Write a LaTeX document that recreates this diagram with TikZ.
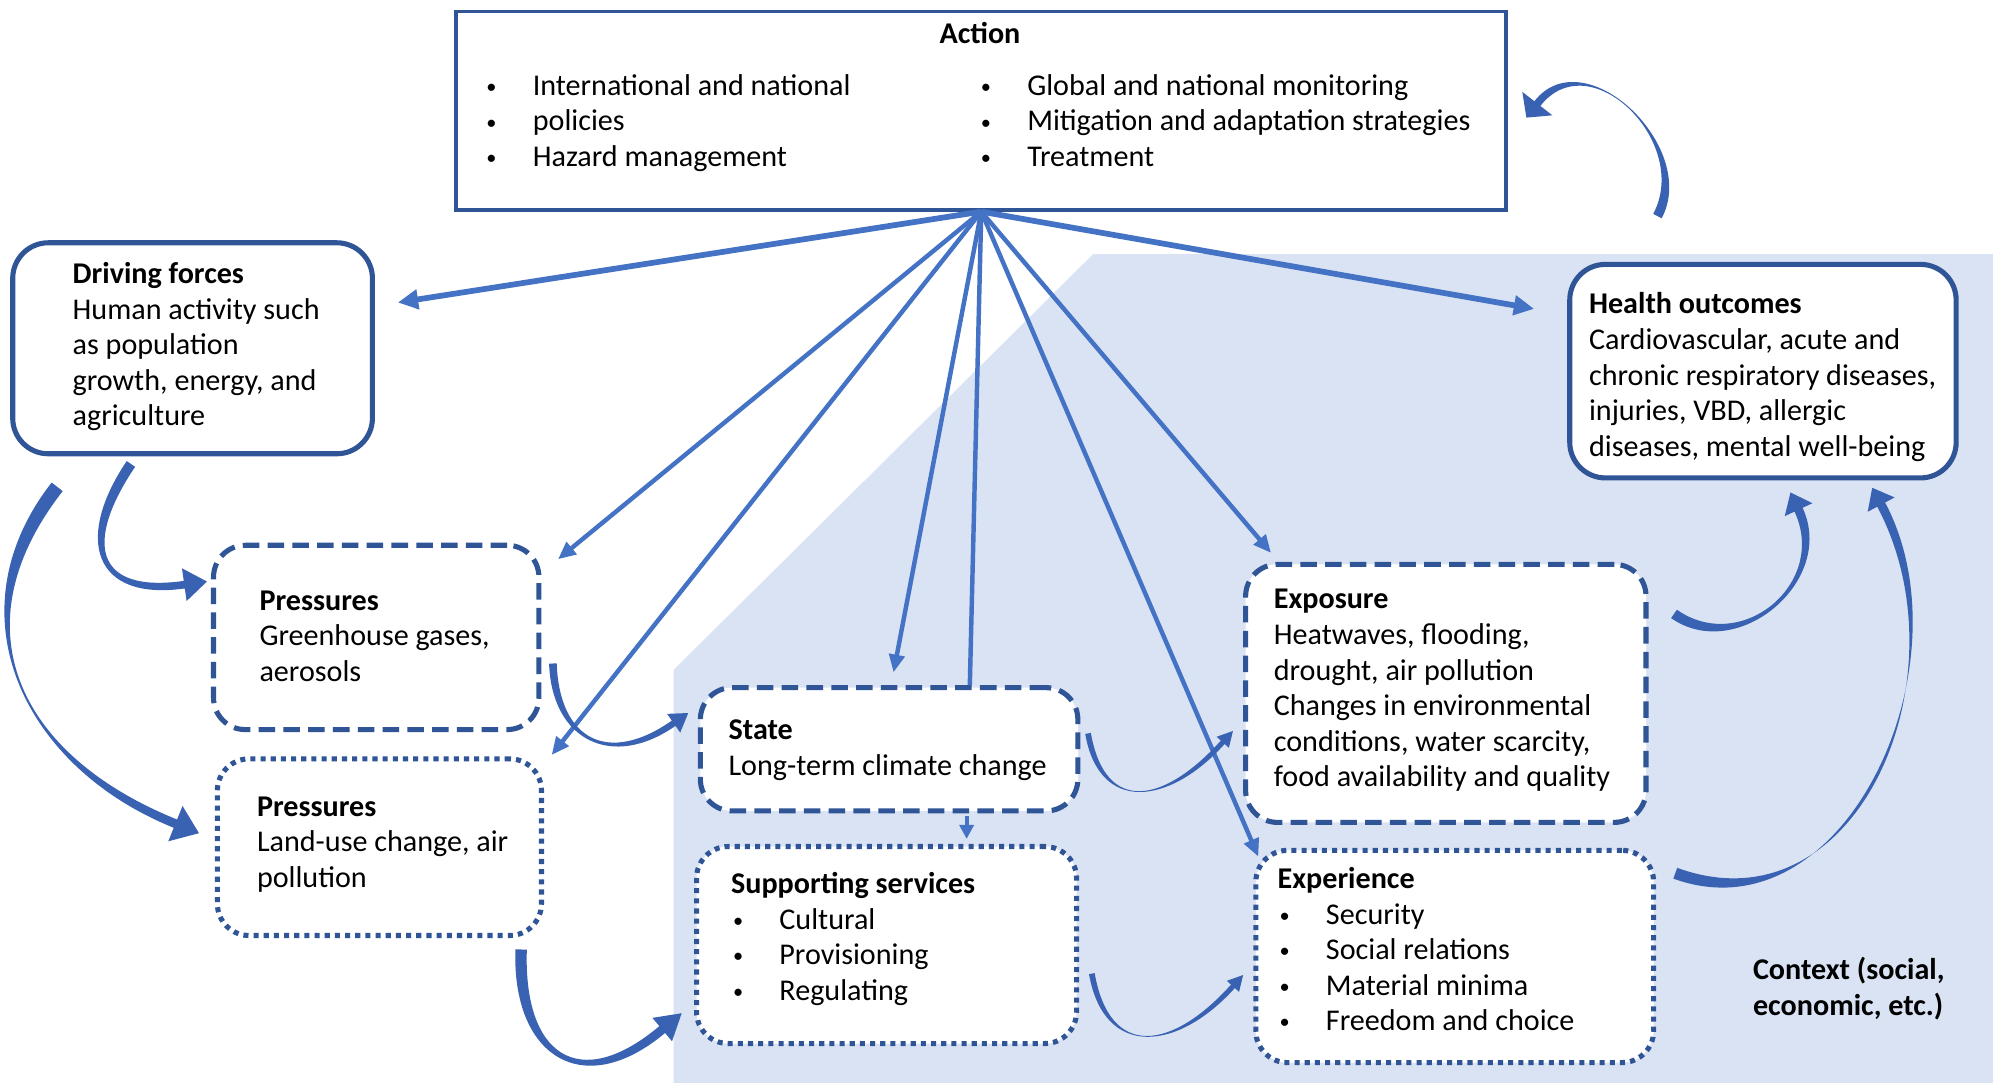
\documentclass[tikz,border=0pt]{standalone}
\usepackage{fontspec}
\setmainfont{Carlito}
\usetikzlibrary{arrows.meta,calc}
\definecolor{boxblue}{HTML}{2F5597}
\definecolor{linkblue}{HTML}{4472C4}
\definecolor{bgblue}{HTML}{DAE3F3}
\definecolor{curveblue}{HTML}{3A62B2}
% tail point, tail angle, head base point, head angle, tail width, shaft width at head, head length, head half width, looseness
\newcommand\curvarrow[9]{%
 \pgfmathsetmacro\cvin{#4+180}%
 \pgfmathsetmacro\cvlin{#9*1.1}%
 \fill[curveblue] ($(#1)+(#2+90:#5/2)$) to[out=#2,in=\cvin,looseness=\cvlin] ($(#3)+(#4+90:#6/2)$) -- ($(#3)+(#4+90:#8)$) -- ($(#3)+(#4:#7)$) -- ($(#3)+(#4-90:#8)$) -- ($(#3)+(#4-90:#6/2)$) to[out=\cvin,in=#2,looseness=#9] ($(#1)+(#2-90:#5/2)$) -- cycle;}
\newcommand\bul{\makebox[38pt][l]{\hspace{1.5pt}\raisebox{1.5pt}{\fontsize{16}{16}\selectfont •}}}
\begin{document}
\begin{tikzpicture}[x=1pt,y=1pt,
  every node/.style={font=\fontsize{23.7}{28}\selectfont, text=black},
  boxbase/.style={draw=boxblue, fill=white, line width=4pt, inner sep=0pt},
  solidbox/.style={boxbase, rounded corners=28pt},
  dashbox/.style={boxbase, rounded corners=25pt, dash pattern=on 13pt off 6.5pt},
  dotbox/.style={boxbase, rounded corners=25pt, dash pattern=on 4pt off 4pt},
  txt/.style={anchor=base west, inner sep=0pt, align=left},
  thickarr/.style={draw=linkblue, line width=4.5pt, -{Triangle[length=16pt,width=15pt]}},
  thinarr/.style={draw=linkblue, line width=3.5pt, -{Triangle[length=14pt,width=12pt]}},
  thinline/.style={draw=linkblue, line width=3.5pt}]
\useasboundingbox (0,0) rectangle (1568,-852);
\fill[white] (0,0) rectangle (1568,-852);
\fill[bgblue] (530,-852) -- (530,-527) -- (860,-200) -- (1568,-200) -- (1568,-852) -- cycle;

% boxes
\node[boxbase, line width=3pt, minimum width=826pt, minimum height=156pt] (action) at (772,-87) {};
\node[solidbox, minimum width=283pt, minimum height=166pt] (driving) at (151.5,-274) {};
\node[solidbox, minimum width=304pt, minimum height=168pt] (health) at (1387,-292) {};
\node[dashbox, minimum width=256pt, minimum height=145pt] (p1) at (296,-501.5) {};
\node[dotbox, minimum width=255pt, minimum height=139pt] (p2) at (298.5,-666.5) {};
\node[dashbox, minimum width=297pt, minimum height=97pt] (state) at (699.5,-589.5) {};
\node[dotbox, minimum width=299pt, minimum height=155pt] (support) at (697.5,-743.5) {};
\node[dashbox, minimum width=315pt, minimum height=203pt] (exposure) at (1137.5,-545.5) {};
\node[dotbox, minimum width=313pt, minimum height=167pt] (experience) at (1144.5,-752.5) {};

% straight connectors from Action
\draw[thickarr] (action.south) -- ($(driving.north east)+(18,-49)$);
\draw[thickarr] (action.south) -- ($(health.north west)+(-26,-37)$);
\draw[thinarr] (action.south) -- ($(p1.north east)+(13,-13)$);
\draw[thinarr] (action.south) -- ($(p2.north east)+(6,1)$);
\draw[thinarr] (action.south) -- ($(state.north)+(3.5,10)$);
\draw[thinline] (action.south) -- ($(state.north)+(63.5,0)$);
\draw[thinarr] (action.south) -- ($(exposure.north west)+(22,7)$);
\draw[thinarr] (action.south) -- ($(experience.north west)+(4,-7)$);
\draw[draw=linkblue, line width=3pt, -{Triangle[length=11pt,width=11pt]}] ($(state.south)+(61,-2)$) -- ($(support.north)+(63,4)$);

% curved arrows
\coordinate (aT) at ($(driving.south west)+(95,-6)$);
\coordinate (aH) at ($(p1.north west)+(-21,-33)$);
\coordinate (bT) at ($(driving.south west)+(37,-24)$);
\coordinate (bH) at ($(p2.north west)+(-31,-53)$);
\coordinate (cT) at ($(p1.east)+(9,-20.5)$);
\coordinate (cH) at ($(state.west)+(-19,20.5)$);
\coordinate (dT) at ($(p2.south east)+(-18,-9)$);
\coordinate (dH) at ($(support.south west)+(-25,13)$);
\coordinate (eT) at ($(state.east)+(6,12.5)$);
\coordinate (eH) at ($(exposure.south west)+(-16,65)$);
\coordinate (fT) at ($(support.east)+(10,-22.5)$);
\coordinate (fH) at ($(experience.west)+(-16,-23.5)$);
\coordinate (gT) at ($(exposure.north east)+(20,-41)$);
\coordinate (gH) at ($(health.south)+(28,-23)$);
\coordinate (hT) at ($(experience.north east)+(15,-20)$);
\coordinate (hH) at ($(health.south east)+(-61,-19)$);
\coordinate (iT) at ($(health.north west)+(71,36)$);
\coordinate (iH) at ($(action.east)+(23,5.5)$);
\curvarrow{aT}{236}{aH}{8}{8}{6}{18}{13}{1.7}
\curvarrow{bT}{232}{bH}{-22}{11}{7}{20}{15}{1.15}
\curvarrow{cT}{272}{cH}{35}{6}{5}{14}{9}{1.4}
\curvarrow{dT}{268}{dH}{40}{9}{7}{20}{12}{1.6}
\curvarrow{eT}{280}{eH}{48}{4.5}{4}{12}{6.5}{1.5}
\curvarrow{fT}{280}{fH}{48}{4.5}{4}{12}{6.5}{1.5}
\curvarrow{gT}{-35}{gH}{115}{8}{7}{15}{12}{1.2}
\curvarrow{hT}{-20}{hH}{118}{9}{7}{15}{12}{1.08}
\curvarrow{iT}{62}{iH}{232}{7.5}{6}{14}{15}{1.2}

% texts
\node[anchor=base, inner sep=0pt] (actiontitle) at (771,-34) {\textbf{Action}};
\node[txt] (actionL) at (381,-75) {\begin{tabular}[t]{@{}l@{}}\bul International and national\\ \bul policies\\ \bul Hazard management\end{tabular}};
\node[txt] (actionR) at (770,-75) {\begin{tabular}[t]{@{}l@{}}\bul Global and national monitoring\\ \bul Mitigation and adaptation strategies\\ \bul Treatment\end{tabular}};
\node[txt] (drivingtext) at (57,-223) {\begin{tabular}[t]{@{}l@{}}\textbf{Driving forces}\\ Human activity such\\ as population\\ growth, energy, and\\ agriculture\end{tabular}};
\node[txt] (healthtext) at (1250,-247) {\begin{tabular}[t]{@{}l@{}}\textbf{Health outcomes}\\ Cardiovascular, acute and\\ chronic respiratory diseases,\\ injuries, VBD, allergic\\ diseases, mental well-being\end{tabular}};
\node[txt] (p1text) at (204,-480) {\begin{tabular}[t]{@{}l@{}}\textbf{Pressures}\\ Greenhouse gases,\\ aerosols\end{tabular}};
\node[txt] (p2text) at (202,-642) {\begin{tabular}[t]{@{}l@{}}\textbf{Pressures}\\ Land-use change, air\\ pollution\end{tabular}};
\node[txt] (statetext) at (573,-582) {\begin{tabular}[t]{@{}l@{}}\textbf{State}\\ Long-term climate change\end{tabular}};
\node[txt] (supporttext) at (575,-703) {\begin{tabular}[t]{@{}l@{}}\textbf{Supporting services}\\ \bul Cultural\\ \bul Provisioning\\ \bul Regulating\end{tabular}};
\node[txt] (exposuretext) at (1002,-479) {\begin{tabular}[t]{@{}l@{}}\textbf{Exposure}\\ Heatwaves, flooding,\\ drought, air pollution\\ Changes in environmental\\ conditions, water scarcity,\\ food availability and quality\end{tabular}};
\node[txt] (experiencetext) at (1005,-699) {\begin{tabular}[t]{@{}l@{}}\textbf{Experience}\\ \bul Security\\ \bul Social relations\\ \bul Material minima\\ \bul Freedom and choice\end{tabular}};
\node[txt] (contexttext) at (1379,-771) {\begin{tabular}[t]{@{}l@{}}\textbf{Context (social,}\\ \textbf{economic, etc.)}\end{tabular}};
\end{tikzpicture}
\end{document}
